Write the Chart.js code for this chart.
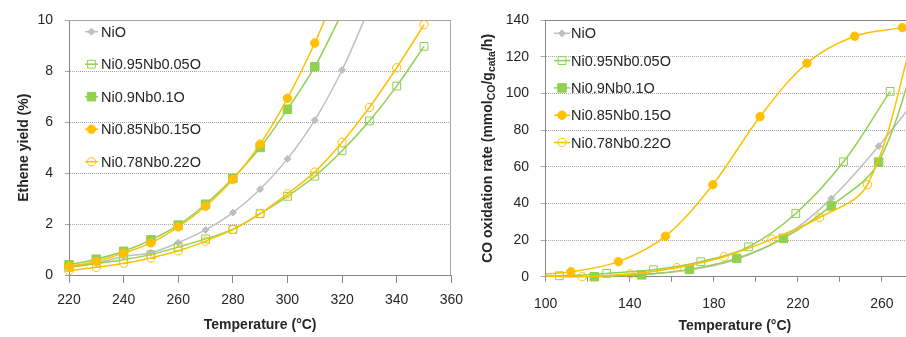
<!DOCTYPE html>
<html>
<head>
<meta charset="utf-8">
<script src="https://cdn.jsdelivr.net/npm/chart.js@4.4.1/dist/chart.umd.min.js"></script>
<style>
  html, body { margin: 0; padding: 0; background: #fff; width: 906px; height: 337px; overflow: hidden; }
  #wrap { position: relative; width: 906px; height: 337px; overflow: hidden; }
  #rateChart { position: absolute; left: 458px; top: 0; }
  #yieldChart { position: absolute; left: 0; top: 0; }
</style>
</head>
<body>
<div id="wrap">
  <canvas id="rateChart" width="480" height="337"></canvas>
  <canvas id="yieldChart" width="472" height="337"></canvas>
</div>
<script>
// series names (same for both panels)
const seriesNames = ['NiO', 'Ni0.95Nb0.05O', 'Ni0.9Nb0.1O', 'Ni0.85Nb0.15O', 'Ni0.78Nb0.22O'];

// left panel: ethene yield (%) vs temperature (°C)
const yieldTemps = [220, 230, 240, 250, 260, 270, 280, 290, 300, 310, 320, 330, 340, 350];
const yieldNiO = [0.32, 0.47, 0.73, 0.87, 1.27, 1.77, 2.45, 3.37, 4.56, 6.08, 8.05, 10.5, null, null];
const yield095 = [0.30, 0.45, 0.60, 0.80, 1.10, 1.42, 1.79, 2.41, 3.09, 3.88, 4.88, 6.05, 7.42, 8.98];
const yield09 = [0.40, 0.62, 0.93, 1.38, 1.96, 2.78, 3.80, 5.01, 6.51, 8.18, 10.3, null, null, null];
const yield085 = [0.34, 0.53, 0.86, 1.26, 1.89, 2.70, 3.75, 5.14, 6.94, 9.11, 11.7, null, null, null];
const yield078 = [0.17, 0.30, 0.46, 0.67, 0.95, 1.33, 1.79, 2.41, 3.19, 4.04, 5.21, 6.58, 8.14, 9.83];

// right panel: CO oxidation rate vs temperature (°C), each series has its own temperatures
const rateTempsNiO = [123.1, 145.7, 168.4, 190.9, 213.1, 235.9, 258.4, 281.0];
const rateNiO = [0.5, 1.3, 3.6, 9.5, 21.5, 42.6, 71.2, 104];
const rateTemps095 = [84.0, 106.5, 129.0, 151.2, 173.8, 196.5, 219.0, 241.7, 263.9];
const rate095 = [0.0, 0.5, 1.8, 3.8, 8.2, 16.3, 34.5, 62.7, 101.1];
const rateTemps09 = [123.1, 145.7, 168.4, 190.9, 213.1, 235.9, 258.4, 281.0];
const rate09 = [0.0, 1.0, 4.0, 10.0, 20.9, 38.6, 62.5, 140];
const rateTemps085 = [89.5, 112.0, 134.6, 157.0, 179.5, 202.0, 224.3, 247.0, 269.7];
const rate085 = [0.8, 2.7, 8.2, 22.1, 50.2, 87.3, 116.5, 131.2, 135.9];
const rateTemps078 = [94.7, 117.4, 140.1, 162.4, 184.9, 207.6, 230.3, 253.1, 275.8];
const rate078 = [0.6, 0.0, 1.5, 4.9, 10.9, 20.5, 32.3, 50.2, 135];

// axis texts
const yieldXTitle = 'Temperature (°C)';
const yieldYTitle = 'Ethene yield (%)';
const rateXTitle = 'Temperature (°C)';
const rateYTitleParts = [
  {text: 'CO oxidation rate (mmol', sub: false},
  {text: 'CO', sub: true},
  {text: '/g', sub: false},
  {text: 'cata', sub: true},
  {text: '/h)', sub: false}
];

const grey = '#BFBFBF', green = '#92D050', orange = '#FFC000';
const axisGrey = '#868686', gridGrey = '#a6a6a6';
const textColor = '#262626';
const fontFamily = "'Liberation Sans', Arial, sans-serif";

const markerStyles = [
  {color: grey, pointStyle: 'rectRot', radius: 3.5, fill: grey},
  {color: green, pointStyle: 'rect', radius: 5.5, fill: 'rgba(0,0,0,0)'},
  {color: green, pointStyle: 'rect', radius: 6, fill: green},
  {color: orange, pointStyle: 'circle', radius: 4.2, fill: orange},
  {color: orange, pointStyle: 'circle', radius: 4.2, fill: 'rgba(0,0,0,0)'}
];

function toPoints(xs, ys) {
  const out = [];
  xs.forEach((x, i) => {
    if (ys[i] !== null) out.push({x: x, y: ys[i]});
  });
  return out;
}

function buildDatasets(seriesData, clip) {
  return seriesData.map((data, i) => {
    const s = markerStyles[i];
    return {
      label: seriesNames[i],
      data: data,
      borderColor: s.color,
      borderWidth: 1.5,
      pointStyle: s.pointStyle,
      pointRadius: s.radius,
      pointHoverRadius: s.radius,
      pointBackgroundColor: s.fill,
      pointBorderColor: s.color,
      pointBorderWidth: 1,
      tension: 0.35,
      fill: false,
      clip: clip,
      order: 5 - i
    };
  });
}

// legend drawn inside the plot area (line + marker + text)
const insideLegend = {
  id: 'insideLegend',
  afterDatasetsDraw(chart, args, opts) {
    const ctx = chart.ctx;
    chart.data.datasets.forEach((ds, i) => {
      const y = opts.y0 + i * opts.step;
      ctx.save();
      ctx.strokeStyle = ds.borderColor;
      ctx.lineWidth = ds.borderWidth;
      ctx.beginPath();
      ctx.moveTo(opts.x0, y);
      ctx.lineTo(opts.x1, y);
      ctx.stroke();
      ctx.fillStyle = ds.pointBackgroundColor;
      ctx.strokeStyle = ds.pointBorderColor;
      ctx.lineWidth = ds.pointBorderWidth;
      Chart.helpers.drawPoint(ctx, {
        pointStyle: ds.pointStyle, radius: ds.pointRadius, borderWidth: ds.pointBorderWidth, rotation: 0
      }, (opts.x0 + opts.x1) / 2, y);
      ctx.fillStyle = textColor;
      ctx.font = '14.5px ' + fontFamily;
      ctx.textBaseline = 'middle';
      ctx.textAlign = 'left';
      ctx.fillText(ds.label, opts.textX, y + 1);
      ctx.restore();
    });
  }
};

// plot-area border on chosen sides
const plotFrame = {
  id: 'plotFrame',
  beforeDatasetsDraw(chart, args, opts) {
    const ctx = chart.ctx, a = chart.chartArea;
    const t = Math.round(a.top) + 0.5, r = Math.round(a.right) - 0.5, b = Math.round(a.bottom);
    ctx.save();
    ctx.strokeStyle = opts.color;
    ctx.lineWidth = 1;
    ctx.beginPath();
    ctx.moveTo(Math.round(a.left), t);
    ctx.lineTo(opts.right ? r : a.right, t);
    if (opts.right) ctx.lineTo(r, b);
    ctx.stroke();
    ctx.restore();
  }
};

// rotated y title with subscripts for the right panel
const rateYTitle = {
  id: 'rateYTitle',
  afterDraw(chart, args, opts) {
    const ctx = chart.ctx, a = chart.chartArea;
    const big = 'bold 14px ' + fontFamily, small = 'bold 10.5px ' + fontFamily;
    ctx.save();
    ctx.translate(opts.x, (a.top + a.bottom) / 2);
    ctx.rotate(-Math.PI / 2);
    ctx.fillStyle = textColor;
    ctx.textBaseline = 'middle';
    ctx.textAlign = 'left';
    let total = 0;
    rateYTitleParts.forEach(p => { ctx.font = p.sub ? small : big; total += ctx.measureText(p.text).width; });
    let x = -total / 2;
    rateYTitleParts.forEach(p => {
      ctx.font = p.sub ? small : big;
      ctx.fillText(p.text, x, p.sub ? 4 : 0);
      x += ctx.measureText(p.text).width;
    });
    ctx.restore();
  }
};

const tickFont = {family: fontFamily, size: 14};
const titleFont = {family: fontFamily, size: 14, weight: 'bold'};

// ---- left chart: ethene yield ----
new Chart(document.getElementById('yieldChart').getContext('2d'), {
  type: 'line',
  data: {
    datasets: buildDatasets([
      toPoints(yieldTemps, yieldNiO),
      toPoints(yieldTemps, yield095),
      toPoints(yieldTemps, yield09),
      toPoints(yieldTemps, yield085),
      toPoints(yieldTemps, yield078)
    ], {left: 8, top: 0, right: 0, bottom: 8})
  },
  options: {
    responsive: false,
    animation: false,
    layout: {padding: {top: 19, right: 20, left: 0, bottom: 0}},
    plugins: {
      legend: {display: false},
      tooltip: {enabled: false},
      insideLegend: {x0: 85, x1: 98, textX: 101, y0: 31.7, step: 32.5},
      plotFrame: {color: gridGrey, right: true}
    },
    scales: {
      x: {
        type: 'linear', min: 220, max: 360,
        ticks: {stepSize: 20, padding: 9, color: textColor, font: tickFont},
        grid: {drawOnChartArea: false, tickLength: 8, tickColor: axisGrey},
        border: {color: axisGrey},
        title: {display: true, text: yieldXTitle, color: textColor, font: titleFont, padding: {top: 0, bottom: 3}},
        afterFit(scale) { scale.height = 62; }
      },
      y: {
        min: 0, max: 10,
        ticks: {stepSize: 2, padding: 12, color: textColor, font: tickFont},
        grid: {color: gridGrey, tickLength: 4, tickColor: gridGrey},
        border: {color: axisGrey, dash: [1, 1]},
        title: {display: true, text: yieldYTitle, color: textColor, font: titleFont, padding: {top: 15.5, bottom: 0}},
        afterFit(scale) { scale.width = 69; }
      }
    }
  },
  plugins: [insideLegend, plotFrame]
});

// ---- right chart: CO oxidation rate ----
new Chart(document.getElementById('rateChart').getContext('2d'), {
  type: 'line',
  data: {
    datasets: buildDatasets([
      toPoints(rateTempsNiO, rateNiO),
      toPoints(rateTemps095, rate095),
      toPoints(rateTemps09, rate09),
      toPoints(rateTemps085, rate085),
      toPoints(rateTemps078, rate078)
    ], {left: 0, top: 0, right: 0, bottom: 8})
  },
  options: {
    responsive: false,
    animation: false,
    layout: {padding: {top: 19, right: 14, left: 0, bottom: 0}},
    plugins: {
      legend: {display: false},
      tooltip: {enabled: false},
      insideLegend: {x0: 96, x1: 112, textX: 113, y0: 33.3, step: 27.3},
      plotFrame: {color: axisGrey, right: false},
      rateYTitle: {x: 30}
    },
    scales: {
      x: {
        type: 'linear', min: 100, max: 280,
        ticks: {
          stepSize: 20, padding: 14, color: textColor, font: tickFont, autoSkip: false, maxRotation: 0,
          callback: v => ((v - 100) % 40 === 0 ? v : '')
        },
        grid: {drawOnChartArea: false, tickLength: 5, tickColor: axisGrey},
        border: {color: axisGrey},
        title: {display: true, text: rateXTitle, color: textColor, font: titleFont, padding: {top: 0, bottom: 2}},
        afterFit(scale) { scale.height = 60.3; }
      },
      y: {
        min: 0, max: 140,
        ticks: {stepSize: 20, padding: 11.7, color: textColor, font: tickFont},
        grid: {color: gridGrey, tickLength: 5, tickColor: gridGrey},
        border: {color: axisGrey, dash: [1, 1]},
        title: {display: false},
        afterFit(scale) { scale.width = 87.7; }
      }
    }
  },
  plugins: [insideLegend, plotFrame, rateYTitle]
});
</script>
</body>
</html>
